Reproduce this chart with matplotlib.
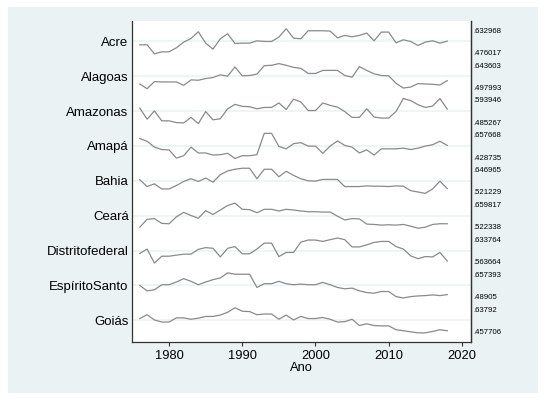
import matplotlib
matplotlib.use("Agg")
import matplotlib.pyplot as plt
from matplotlib.patches import Rectangle

years = list(range(1976, 2019))

estados = ["Acre", "Alagoas", "Amazonas", "Amapá", "Bahia", "Ceará",
           "Distritofederal", "EspíritoSanto", "Goiás"]

acre = [.5325, .5325, .476017, .4886, .4886, .5137, .5493, .5723, .6141, .5430,
        .5053, .5702, .6016, .5409, .5430, .5430, .5576, .5535, .5535, .5807,
        .632968, .5744, .5702, .6204, .6204, .6204, .6183, .5765, .5911, .5827,
        .5911, .6058, .5576, .6120, .6120, .5451, .5639, .5535, .5283, .5493,
        .5576, .5430, .5555]
alagoas = [.5255, .497993, .5393, .5373, .5373, .5373, .5177, .5492, .5472, .5570,
           .5629, .5787, .5708, .6239, .5728, .5747, .5826, .6318, .6338, .643603,
           .6338, .6220, .6161, .5865, .5865, .6042, .6042, .6042, .5747, .5649,
           .6259, .6042, .5846, .5747, .5728, .5295, .5019, .5078, .5275, .5255,
           .5236, .5196, .5452]
amazonas = [.5523, .5046, .5404, .4972, .4972, .4897, .4882, .5121, .485267, .5374,
            .5016, .5061, .5493, .5686, .5597, .5582, .5493, .5552, .5552, .5746,
            .5463, .5910, .5791, .5418, .5418, .5746, .5642, .5567, .5374, .5121,
            .5121, .5493, .5136, .5091, .5091, .5374, .593946, .5850, .5671, .5552,
            .5612, .5935, .5478]
amapa = [.6106, .5855, .5322, .5103, .5071, .4319, .4538, .5322, .4789, .4789,
         .4601, .4632, .4758, .428735, .4538, .4538, .4632, .657668, .6576, .5385,
         .5165, .5636, .5730, .5416, .5416, .4758, .5416, .5887, .5479, .5322,
         .4789, .5071, .4601, .5165, .5165, .5165, .5228, .5103, .5228, .5416,
         .5542, .5855, .5479]
bahia = [.5892, .5552, .5688, .5433, .5433, .5603, .5807, .5943, .5807, .5977,
         .5773, .6147, .6334, .6419, .646965, .6469, .5943, .6419, .6419, .6045,
         .6317, .6113, .5943, .5841, .5824, .5909, .5909, .5909, .5552, .5552,
         .5552, .5586, .5569, .5569, .5552, .5586, .5569, .5348, .5280, .521229,
         .5433, .5824, .5450]
ceara = [.5280, .5713, .5751, .5487, .5468, .5845, .6090, .5920, .5769, .6184,
         .5977, .6221, .6466, .659817, .6259, .6240, .6071, .6259, .6259, .6165,
         .6259, .6221, .6165, .6127, .6127, .6108, .6108, .5882, .5675, .5751,
         .5732, .5449, .5430, .5393, .5412, .5393, .5430, .5336, .522338, .5280,
         .5430, .5468, .5468]
df = [.5906, .6030, .563664, .5829, .5829, .5858, .5886, .5886, .6021, .6069,
      .6050, .5809, .6050, .6098, .5896, .5896, .6030, .6194, .6194, .5819,
      .5934, .5934, .6222, .6280, .6280, .6242, .6290, .633764, .6290, .6088,
      .6088, .6146, .6213, .6242, .6242, .6098, .6030, .5838, .5761, .5819,
      .5809, .5934, .5694]
es = [.5732, .5368, .5437, .5778, .5778, .5960, .6187, .6005, .5778, .5960,
      .6119, .6233, .657393, .6483, .6483, .6483, .5596, .5846, .5846, .6005,
      .5846, .5778, .5823, .5778, .5778, .5937, .5778, .5596, .5505, .5550,
      .5368, .5255, .5209, .5323, .5323, .4982, .48905, .4982, .5027, .5050,
      .5095, .5050, .5118]
goias = [.5603, .5878, .5503, .5353, .5353, .5653, .5653, .5553, .5628, .5753,
         .5753, .5853, .6054, .63792, .6129, .6104, .5878, .5928, .5928, .5553,
         .5853, .5503, .5753, .5603, .5603, .5678, .5553, .5353, .5378, .5553,
         .5102, .5228, .5102, .5077, .5077, .4802, .4727, .4652, .457706, .4578,
         .4677, .4802, .4727]

series = [acre, alagoas, amazonas, amapa, bahia, ceara, df, es, goias]

plt.rcParams["font.family"] = ["Liberation Sans", "DejaVu Sans"]

panel = "#eaf2f3"
altura = 0.72

fig = plt.figure(figsize=(5.5, 4.03), dpi=100, facecolor="white")
fig.patches.append(Rectangle((8 / 550, 1 - 393 / 403), (538 - 8) / 550, (393 - 7) / 403,
                             transform=fig.transFigure, facecolor=panel,
                             edgecolor="none", zorder=-10))
ax = fig.add_axes([0.2395, 0.1521, 0.6163, 0.7958])
ax.set_facecolor("white")

centros = []
ticks_dir = []
labels_dir = []
for k, vals in enumerate(series):
    c = -k
    lo, hi = min(vals), max(vals)
    y = [c + ((v - lo) / (hi - lo) - 0.5) * altura for v in vals]
    ax.axhline(c, color=panel, lw=1.1, zorder=1)
    ax.plot(years, y, color="#8a8a8a", lw=0.9, zorder=2)
    centros.append(c)
    ticks_dir += [c + 0.32, c - 0.32]
    labels_dir += [f"{hi:.6f}".rstrip("0").lstrip("0"),
                   f"{lo:.6f}".rstrip("0").lstrip("0")]

ax.set_xlim(1974.9, 2021.2)
ax.set_ylim(-8.614, 0.582)
ax.set_yticks(centros)
ax.set_yticklabels(estados, fontsize=9.5)
ax.tick_params(axis="y", length=0, pad=2.2)
ax.set_xticks([1980, 1990, 2000, 2010, 2020])
ax.tick_params(axis="x", length=3.2, width=0.8, color="#333333", labelsize=9.3, pad=2.5)
ax.set_xlabel("Ano", fontsize=9.3, labelpad=0)

for s in ["left", "bottom", "right"]:
    ax.spines[s].set_color("#333333")
    ax.spines[s].set_linewidth(0.9)
ax.spines["top"].set_visible(False)

ax2 = ax.twinx()
ax2.set_ylim(ax.get_ylim())
ax2.set_yticks(ticks_dir)
ax2.set_yticklabels(labels_dir, fontsize=5.6)
ax2.tick_params(axis="y", length=0, pad=2)
for s in ["left", "bottom", "top"]:
    ax2.spines[s].set_visible(False)
ax2.spines["right"].set_color("#333333")
ax2.spines["right"].set_linewidth(0.9)

fig.savefig("out.png", dpi=100, facecolor="white")
